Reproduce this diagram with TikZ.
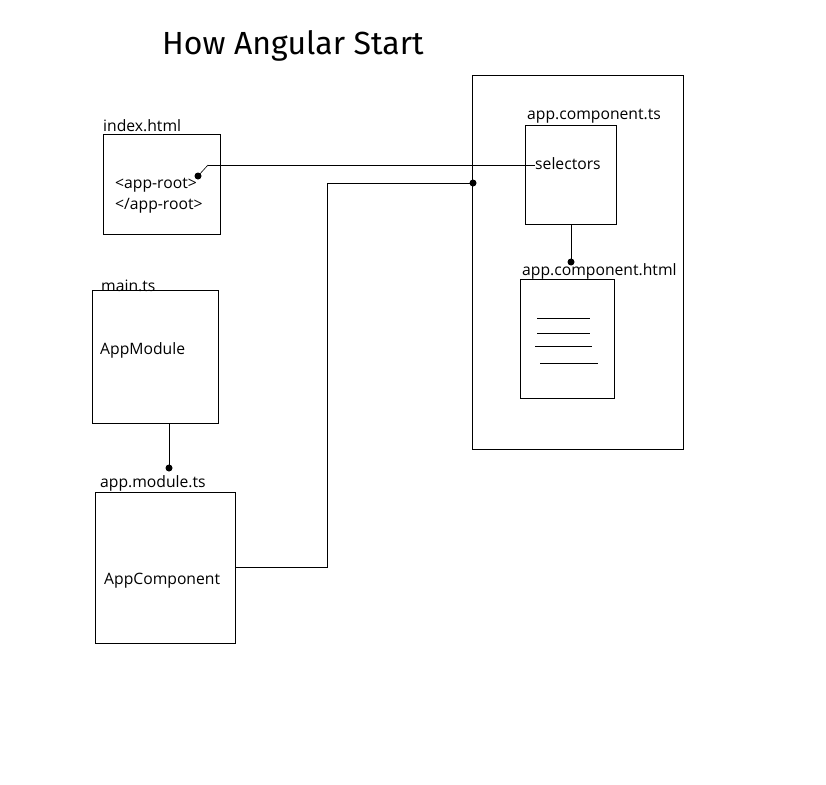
\documentclass[tikz,border=0pt]{standalone}
\usepackage{fontspec}
\setmainfont{Open Sans}
\newfontfamily\titlefont{Fira Sans}
\begin{document}
\begin{tikzpicture}[x=1pt,y=-1pt,
  box/.style={draw,line width=1pt,inner sep=0pt,anchor=north west},
  lbl/.style={inner sep=0pt,anchor=west,font=\fontsize{15.7}{18}\selectfont},
  conn/.style={line width=1pt},
  dot/.style={circle,fill=black,inner sep=0pt,minimum size=7pt}]
\useasboundingbox (0,0) rectangle (826,784);
\node[inner sep=0pt,anchor=west,font=\titlefont\fontsize{32}{36}\selectfont] (title) at (162,46) {How Angular Start};
% index.html
\node[lbl] (lindex) at (103,126) {index.html};
\node[box,minimum width=117pt,minimum height=100pt] (index) at (103,134) {};
\node[lbl] (open) at (115,185) {<app-root>};
\node[lbl] (close) at (115,206) {</app-root>};
\node[dot] (d1) at (198,176) {};
% main.ts
\node[lbl] (lmain) at (101,286) {main.ts};
\node[box,minimum width=126pt,minimum height=133pt] (main) at (92,290) {};
\node[lbl] (appmodule) at (100,350) {AppModule};
\node[dot] (d2) at (169,468) {};
% app.module.ts
\node[lbl] (lmodule) at (100,483) {app.module.ts};
\node[box,minimum width=140pt,minimum height=151pt] (module) at (95,492) {};
\node[lbl] (appcomp) at (104,581) {AppComponent};
% outer
\node[box,minimum width=211pt,minimum height=374pt] (outer) at (472,75) {};
\node[lbl] (lts) at (527,116) {app.component.ts};
\node[box,minimum width=91pt,minimum height=99pt] (ts) at (525,125) {};
\node[lbl] (sel) at (535,164) {selectors};
\node[dot] (d3) at (571,262) {};
\node[lbl] (lhtml) at (522,271) {app.component.html};
\node[box,minimum width=94pt,minimum height=119pt] (html) at (520,279) {};
\node[dot] (d4) at (473,183) {};
% lines in html doc
\coordinate (l1a) at (537,318); \coordinate (l1b) at (590,318);
\coordinate (l2a) at (537,333); \coordinate (l2b) at (590,333);
\coordinate (l3a) at (535,346); \coordinate (l3b) at (592,346);
\coordinate (l4a) at (540,363); \coordinate (l4b) at (598,363);
\draw[conn] (l1a) -- (l1b);
\draw[conn] (l2a) -- (l2b);
\draw[conn] (l3a) -- (l3b);
\draw[conn] (l4a) -- (l4b);
% connectors
\coordinate (k1) at (208,165);
\draw[conn,line width=0.6pt] (d1.center) -- (k1);
\draw[conn] (k1) -- (sel.west |- k1);
\draw[conn] (d4.center) -| (327,567) -- (module.east |- 0,567);
\draw[conn] (ts.south -| d3) -- (d3.center);
\draw[conn] (main.south -| d2) -- (d2.center);
\end{tikzpicture}
\end{document}
